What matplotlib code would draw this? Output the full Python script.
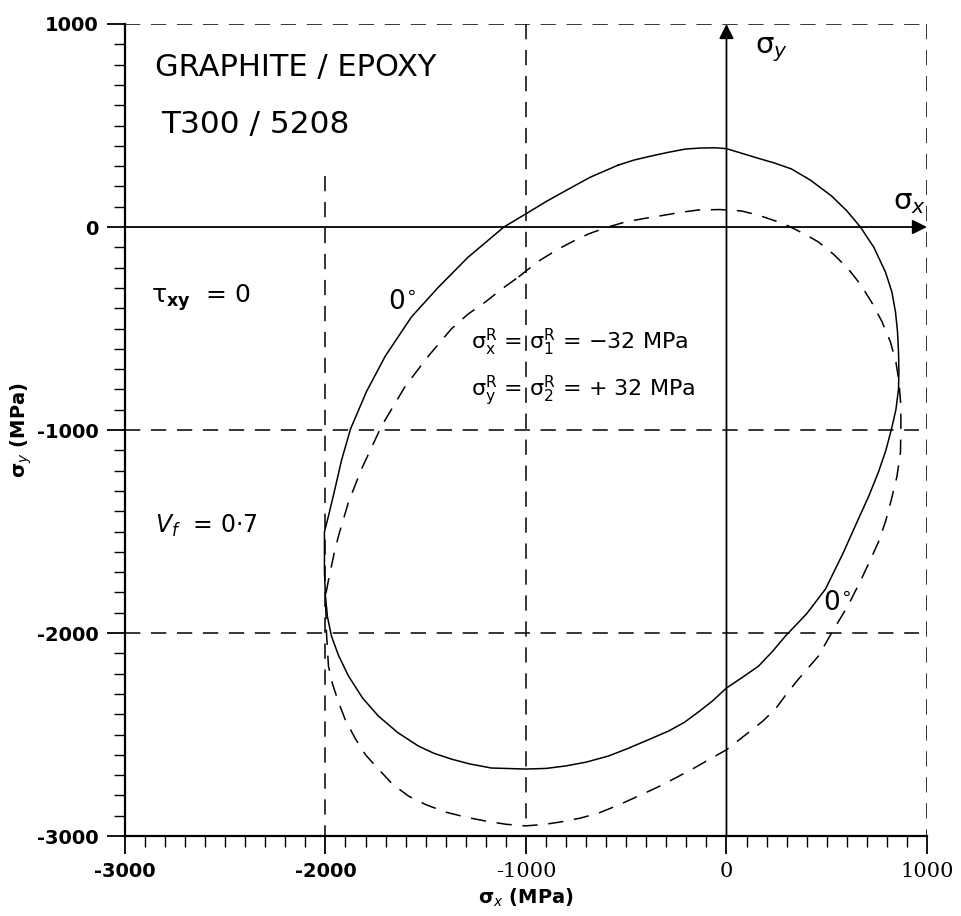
import matplotlib.pyplot as plt
from matplotlib.ticker import MultipleLocator

# ----------------------------------------
# Failure envelopes, tau_xy = 0 (MPa)
# ----------------------------------------
# solid: 0 deg envelope without residual stress
solid_x = [-540, -460, -374, -290, -204, -130, -55, 0, 80, 160, 240, 324, 420, 524,
           600, 668, 735, 793, 825, 843, 853, 858, 860, 858, 845, 823, 795, 758, 710,
           658, 580, 494, 400, 294, 230, 160, 80, 0, -70, -140, -210, -289, -404,
           -500, -589, -700, -803, -900, -1002, -1172, -1280, -1372, -1460, -1536,
           -1640, -1736, -1815, -1885, -1935, -1970, -1990, -2000, -2005, -2005,
           -2005, -1985, -1955, -1920, -1875, -1795, -1701, -1571, -1440, -1290,
           -1110, -1000, -900, -800, -680, -540]
solid_y = [305, 330, 350, 368, 384, 389, 390, 386, 362, 338, 315, 286, 230, 153,
           80, 0, -100, -222, -320, -419, -515, -616, -710, -798, -900, -995, -1100,
           -1207, -1325, -1438, -1610, -1783, -1905, -2015, -2090, -2163, -2218,
           -2271, -2335, -2389, -2440, -2483, -2532, -2572, -2606, -2636, -2655,
           -2667, -2670, -2665, -2645, -2621, -2592, -2557, -2490, -2409, -2320,
           -2212, -2110, -2015, -1920, -1818, -1700, -1600, -1502, -1424, -1300,
           -1150, -995, -810, -635, -443, -300, -150, 0, 65, 125, 180, 245, 305]

# dashed: 0 deg envelope with residual stress +-32 MPa
dash_x = [-1037, -940, -838, -760, -688, -600, -504, -410, -324, -230, -140, -30,
          75, 160, 244, 309, 390, 459, 535, 608, 670, 723, 775, 818, 845, 860, 868,
          870, 868, 850, 823, 795, 758, 715, 673, 608, 524, 459, 359, 300, 244, 180,
          110, 0, -90, -170, -254, -345, -439, -540, -638, -730, -823, -910, -1002,
          -1100, -1202, -1300, -1401, -1500, -1586, -1665, -1736, -1800, -1850,
          -1900, -1935, -1965, -1985, -1995, -2000, -1985, -1970, -1955, -1935,
          -1885, -1820, -1720, -1601, -1486, -1372, -1290, -1202, -1120, -1037]
dash_y = [-246, -170, -108, -68, -34, -3, 25, 42, 56, 72, 84, 86, 79, 58, 30, 5,
          -35, -74, -135, -207, -285, -369, -465, -567, -665, -760, -860, -950,
          -1108, -1230, -1340, -1445, -1552, -1645, -1734, -1862, -2000, -2113,
          -2227, -2300, -2374, -2435, -2490, -2575, -2625, -2670, -2714, -2760,
          -2803, -2848, -2887, -2912, -2930, -2943, -2950, -2942, -2926, -2907,
          -2882, -2845, -2803, -2745, -2670, -2600, -2522, -2430, -2340, -2250,
          -2163, -1995, -1818, -1740, -1670, -1600, -1522, -1355, -1192, -980,
          -783, -635, -502, -430, -369, -305, -246]

x_ticks = [-3000, -2000, -1000, 0, 1000]
y_ticks = [-3000, -2000, -1000, 0, 1000]

# ----------------------------------------
# Figure
# ----------------------------------------
fig = plt.figure(figsize=(9.61, 9.16), dpi=100)
ax = fig.add_axes([0.130, 0.0873, 0.8346, 0.8865])
ax.set_xlim(-3000, 1000)
ax.set_ylim(-3000, 1000)

ax.spines["top"].set_visible(False)
ax.spines["right"].set_visible(False)
ax.spines["left"].set_linewidth(1.6)
ax.spines["bottom"].set_linewidth(1.6)

ax.xaxis.set_major_locator(MultipleLocator(1000))
ax.yaxis.set_major_locator(MultipleLocator(1000))
ax.xaxis.set_minor_locator(MultipleLocator(100))
ax.yaxis.set_minor_locator(MultipleLocator(100))
ax.tick_params(which="major", direction="out", length=13, width=1.3, pad=6)
ax.tick_params(which="minor", direction="out", length=8, width=1.0)
ax.set_xticks(x_ticks)
ax.set_yticks(y_ticks)
ax.set_yticklabels([str(v) for v in y_ticks], fontsize=14, fontweight="semibold")
ax.set_xticklabels([str(v) for v in x_ticks], fontsize=14)
for lab in ax.get_xticklabels()[:2]:
    lab.set_fontweight("bold")
for lab in ax.get_xticklabels()[2:]:
    lab.set_family("DejaVu Serif")
    lab.set_fontsize(15)

ax.set_xlabel(r"σ$_x$ (MPa)", fontsize=14, fontweight="bold", labelpad=4)
ax.set_ylabel(r"σ$_y$ (MPa)", fontsize=14, fontweight="bold", labelpad=2)

# dashed frame and grid lines
dash = dict(color="k", lw=1.1, linestyle=(0, (10, 7)))
ax.plot([-3000, 1000], [1000, 1000], **dash)
ax.plot([1000, 1000], [1000, -3000], **dash)
ax.plot([-2000, -2000], [250, -3000], **dash)
ax.plot([-1000, -1000], [1000, -2950], **dash)
ax.plot([-3000, 960], [-1000, -1000], **dash)
ax.plot([-3000, 960], [-2000, -2000], **dash)

# stress axes with arrow heads
arrow = dict(arrowstyle="-|>", color="k", lw=1.3, mutation_scale=22,
             shrinkA=0, shrinkB=0)
ax.annotate("", xy=(1000, 0), xytext=(-3000, 0), arrowprops=arrow)
ax.annotate("", xy=(0, 1000), xytext=(0, -3000), arrowprops=arrow)

# envelopes
ax.plot(solid_x, solid_y, color="k", lw=1.1)
ax.plot(dash_x, dash_y, color="k", lw=1.1, linestyle=(0, (10, 7)))

# ----------------------------------------
# Annotations
# ----------------------------------------
ax.text(-2850, 784, "GRAPHITE / EPOXY", fontsize=22, va="center")
ax.text(-2820, 505, "T300 / 5208", fontsize=22.5, va="center")
ax.text(-2870, -350, r"τ$_{\mathbf{xy}}$  = 0", fontsize=18, va="center")
ax.text(-2850, -1470, r"$V_f$  = 0·7", fontsize=17, va="center")
ax.text(-1690, -370, r"0$^{\circ}$", fontsize=19, va="center")
ax.text(480, -1850, r"0$^{\circ}$", fontsize=19, va="center")
ax.text(-1275, -567, r"σ$_\mathrm{x}^\mathrm{R}$ = σ$_\mathrm{1}^\mathrm{R}$ = $-$32 MPa",
        fontsize=16, va="center")
ax.text(-1275, -808, r"σ$_\mathrm{y}^\mathrm{R}$ = σ$_\mathrm{2}^\mathrm{R}$ = + 32 MPa",
        fontsize=16, va="center")
ax.text(140, 873, r"σ$_y$", fontsize=21, va="center")
ax.text(830, 123, r"σ$_x$", fontsize=21, va="center")

fig.savefig("out.png", dpi=100)
